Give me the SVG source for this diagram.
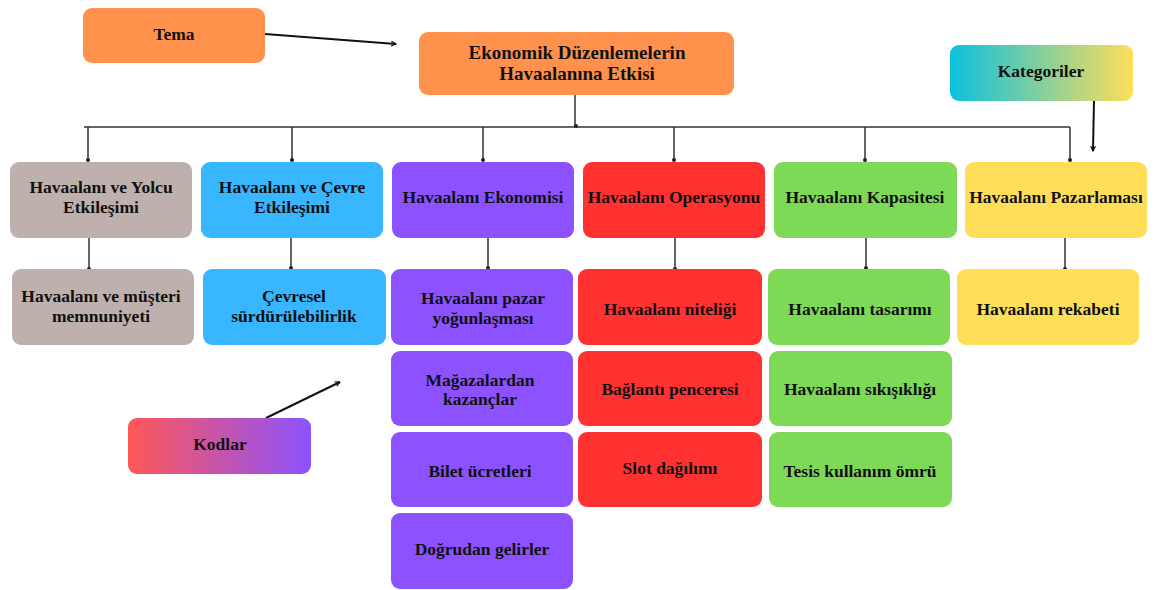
<svg xmlns="http://www.w3.org/2000/svg" width="1162" height="590" viewBox="0 0 1162 590">
  <defs>
    <linearGradient id="gradKategori" x1="0" y1="0" x2="1" y2="0">
      <stop offset="0" stop-color="#0CC0DF"/>
      <stop offset="1" stop-color="#FFDE59"/>
    </linearGradient>
    <linearGradient id="gradKod" x1="0" y1="0" x2="1" y2="0">
      <stop offset="0" stop-color="#FF5757"/>
      <stop offset="1" stop-color="#8C52FF"/>
    </linearGradient>
    <marker id="arrow" viewBox="0 0 10 10" refX="9" refY="5" markerWidth="6" markerHeight="6" orient="auto-start-reverse" markerUnits="userSpaceOnUse">
      <path d="M1,1 L9,5 L1,9" fill="none" stroke="#111" stroke-width="2"/>
    </marker>
  </defs>
  <style>
    text { font-family: "Liberation Serif", "Times New Roman", serif; font-weight: bold; font-size: 17.5px; fill: #111; text-anchor: middle; dominant-baseline: central; }
    .big { font-size: 19px; }
    .orange { fill: #FF914D; }
    .gray { fill: #BDB0AD; }
    .blue { fill: #38B6FF; }
    .purple { fill: #8C52FF; }
    .red { fill: #FF3131; }
    .green { fill: #7ED957; }
    .yellow { fill: #FFDE59; }
    .tree { stroke: #333; stroke-width: 1.5; fill: none; }
    .dot { fill: #222; }
    .pointer { stroke: #111; stroke-width: 2; fill: none; marker-end: url(#arrow); }
  </style>

  <!-- connectors -->
  <g id="connectors">
    <path class="tree" d="M575,95 V127 M84,127 H1070 M88,127 V161 M292,127 V161 M483,127 V161 M674,127 V161 M865,127 V161 M1070,127 V161"/>
    <path class="tree" d="M89,237 V269 M291,237 V269 M488,237 V269 M675,237 V269 M866,237 V269 M1065,237 V269"/>
    <circle class="dot" cx="576" cy="126" r="2"/>
    <circle class="dot" cx="88" cy="160" r="2"/>
    <circle class="dot" cx="292" cy="160" r="2"/>
    <circle class="dot" cx="483" cy="160" r="2"/>
    <circle class="dot" cx="674" cy="160" r="2"/>
    <circle class="dot" cx="865" cy="160" r="2"/>
    <circle class="dot" cx="1070" cy="160" r="2"/>
    <circle class="dot" cx="89" cy="269" r="2"/>
    <circle class="dot" cx="291" cy="268" r="2"/>
    <circle class="dot" cx="488" cy="268" r="2"/>
    <circle class="dot" cx="675" cy="269" r="2"/>
    <circle class="dot" cx="866" cy="268" r="2"/>
    <circle class="dot" cx="1065" cy="269" r="2"/>
    <line class="pointer" x1="265" y1="34" x2="396" y2="44"/>
    <line class="pointer" x1="1094" y1="100" x2="1093" y2="151"/>
    <line class="pointer" x1="266" y1="418" x2="340" y2="382"/>
  </g>

  <!-- legend boxes -->
  <g id="tema">
    <rect class="orange" x="83" y="8" width="182" height="55" rx="9"/>
    <text x="174" y="34">Tema</text>
  </g>
  <g id="kategoriler">
    <rect fill="url(#gradKategori)" x="950" y="45" width="183" height="56" rx="9"/>
    <text x="1041" y="71">Kategoriler</text>
  </g>
  <g id="kodlar">
    <rect fill="url(#gradKod)" x="128" y="418" width="183" height="56" rx="9"/>
    <text x="220" y="444">Kodlar</text>
  </g>

  <!-- theme -->
  <g id="theme">
    <rect class="orange" x="419" y="32" width="315" height="63" rx="9"/>
    <text class="big" x="577" y="52">Ekonomik Düzenlemelerin</text>
    <text class="big" x="577" y="73">Havaalanına Etkisi</text>
  </g>

  <!-- categories -->
  <g id="cat-yolcu">
    <rect class="gray" x="10" y="162" width="182" height="76" rx="9"/>
    <text x="101" y="187">Havaalanı ve Yolcu</text>
    <text x="101" y="207">Etkileşimi</text>
  </g>
  <g id="cat-cevre">
    <rect class="blue" x="201" y="162" width="182" height="76" rx="9"/>
    <text x="292" y="187">Havaalanı ve Çevre</text>
    <text x="292" y="207">Etkileşimi</text>
  </g>
  <g id="cat-ekonomi">
    <rect class="purple" x="392" y="162" width="182" height="76" rx="9"/>
    <text x="483" y="197">Havaalanı Ekonomisi</text>
  </g>
  <g id="cat-operasyon">
    <rect class="red" x="583" y="162" width="182" height="76" rx="9"/>
    <text x="674" y="197">Havaalanı Operasyonu</text>
  </g>
  <g id="cat-kapasite">
    <rect class="green" x="774" y="162" width="183" height="76" rx="9"/>
    <text x="865" y="197">Havaalanı Kapasitesi</text>
  </g>
  <g id="cat-pazarlama">
    <rect class="yellow" x="965" y="162" width="182" height="76" rx="9"/>
    <text x="1056" y="197">Havaalanı Pazarlaması</text>
  </g>

  <!-- codes -->
  <g id="code-musteri">
    <rect class="gray" x="12" y="269" width="182" height="76" rx="9"/>
    <text x="101" y="296">Havaalanı ve müşteri</text>
    <text x="101" y="316">memnuniyeti</text>
  </g>
  <g id="code-surdurulebilirlik">
    <rect class="blue" x="203" y="269" width="183" height="76" rx="9"/>
    <text x="294" y="296">Çevresel</text>
    <text x="294" y="316">sürdürülebilirlik</text>
  </g>
  <g id="code-pazar">
    <rect class="purple" x="391" y="269" width="182" height="76" rx="9"/>
    <text x="483" y="298">Havaalanı pazar</text>
    <text x="483" y="318">yoğunlaşması</text>
  </g>
  <g id="code-magaza">
    <rect class="purple" x="391" y="351" width="182" height="75" rx="9"/>
    <text x="480" y="380">Mağazalardan</text>
    <text x="480" y="399">kazançlar</text>
  </g>
  <g id="code-bilet">
    <rect class="purple" x="391" y="432" width="182" height="75" rx="9"/>
    <text x="480" y="471">Bilet ücretleri</text>
  </g>
  <g id="code-dogrudan">
    <rect class="purple" x="391" y="513" width="182" height="76" rx="9"/>
    <text x="482" y="549">Doğrudan gelirler</text>
  </g>
  <g id="code-nitelik">
    <rect class="red" x="578" y="269" width="184" height="76" rx="9"/>
    <text x="670" y="309">Havaalanı niteliği</text>
  </g>
  <g id="code-baglanti">
    <rect class="red" x="578" y="351" width="184" height="75" rx="9"/>
    <text x="670" y="389">Bağlantı penceresi</text>
  </g>
  <g id="code-slot">
    <rect class="red" x="578" y="432" width="184" height="75" rx="9"/>
    <text x="670" y="468">Slot dağılımı</text>
  </g>
  <g id="code-tasarim">
    <rect class="green" x="768" y="269" width="182" height="76" rx="9"/>
    <text x="860" y="309">Havaalanı tasarımı</text>
  </g>
  <g id="code-sikisiklik">
    <rect class="green" x="769" y="351" width="183" height="75" rx="9"/>
    <text x="860" y="389">Havaalanı sıkışıklığı</text>
  </g>
  <g id="code-tesis">
    <rect class="green" x="769" y="432" width="183" height="75" rx="9"/>
    <text x="860" y="471">Tesis kullanım ömrü</text>
  </g>
  <g id="code-rekabet">
    <rect class="yellow" x="957" y="269" width="182" height="76" rx="9"/>
    <text x="1048" y="309">Havaalanı rekabeti</text>
  </g>
</svg>
